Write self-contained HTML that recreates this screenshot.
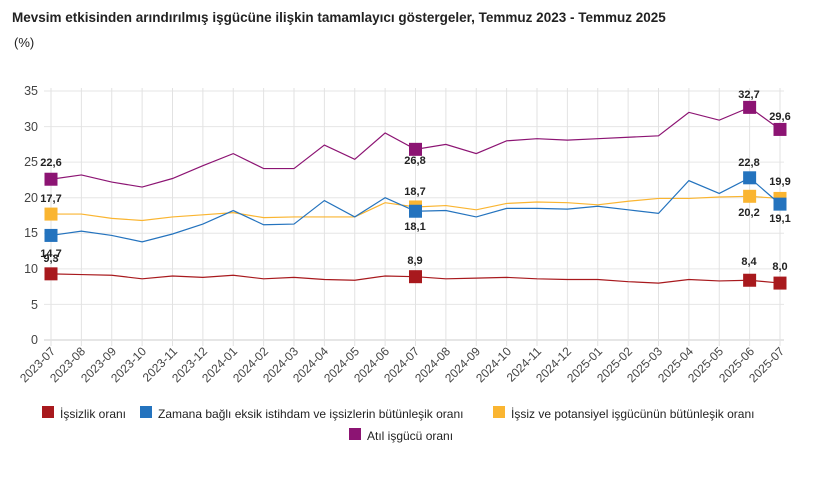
<!DOCTYPE html>
<html><head><meta charset="utf-8"><style>
body{margin:0;background:#fff;width:814px;height:472px;overflow:hidden;font-family:"Liberation Sans",Arial,sans-serif}
svg text{font-family:"Liberation Sans",Arial,sans-serif}
</style></head><body>
<svg id="s" width="814" height="472" xmlns="http://www.w3.org/2000/svg">
<text x="12" y="22" font-size="13.5" font-weight="bold" fill="#222">Mevsim etkisinden arındırılmış işgücüne ilişkin tamamlayıcı göstergeler, Temmuz 2023 - Temmuz 2025</text>
<text x="14" y="47" font-size="13" fill="#222">(%)</text>
<g id="grid"></g>
<g font-size="12.5" fill="#444" text-anchor="end">
<text x="38" y="344">0</text><text x="38" y="273">10</text><text x="38" y="309">5</text>
<text x="38" y="237">15</text><text x="38" y="202">20</text><text x="38" y="166">25</text>
<text x="38" y="131">30</text><text x="38" y="95">35</text>
</g>
<g id="xl" font-size="12" fill="#444" text-anchor="end">
<text transform="translate(56,352) rotate(-45)">2023-07</text>
<text transform="translate(86,352) rotate(-45)">2023-08</text>
<text transform="translate(117,352) rotate(-45)">2023-09</text>
<text transform="translate(147,352) rotate(-45)">2023-10</text>
<text transform="translate(178,352) rotate(-45)">2023-11</text>
<text transform="translate(208,352) rotate(-45)">2023-12</text>
<text transform="translate(238,352) rotate(-45)">2024-01</text>
<text transform="translate(269,352) rotate(-45)">2024-02</text>
<text transform="translate(299,352) rotate(-45)">2024-03</text>
<text transform="translate(329,352) rotate(-45)">2024-04</text>
<text transform="translate(360,352) rotate(-45)">2024-05</text>
<text transform="translate(390,352) rotate(-45)">2024-06</text>
<text transform="translate(420,352) rotate(-45)">2024-07</text>
<text transform="translate(451,352) rotate(-45)">2024-08</text>
<text transform="translate(481,352) rotate(-45)">2024-09</text>
<text transform="translate(512,352) rotate(-45)">2024-10</text>
<text transform="translate(542,352) rotate(-45)">2024-11</text>
<text transform="translate(572,352) rotate(-45)">2024-12</text>
<text transform="translate(603,352) rotate(-45)">2025-01</text>
<text transform="translate(633,352) rotate(-45)">2025-02</text>
<text transform="translate(663,352) rotate(-45)">2025-03</text>
<text transform="translate(694,352) rotate(-45)">2025-04</text>
<text transform="translate(724,352) rotate(-45)">2025-05</text>
<text transform="translate(755,352) rotate(-45)">2025-06</text>
<text transform="translate(785,352) rotate(-45)">2025-07</text>
</g>
<g id="lines"></g>
<g font-size="11" font-weight="bold" fill="#222" text-anchor="middle">
<text x="51" y="166">22,6</text><text x="51" y="202">17,7</text><text x="51" y="257">14,7</text><text x="51" y="262">9,3</text>
<text x="415" y="164">26,8</text><text x="415" y="195">18,7</text><text x="415" y="230">18,1</text><text x="415" y="264">8,9</text>
<text x="749" y="98">32,7</text><text x="780" y="120">29,6</text>
<text x="749" y="166">22,8</text><text x="780" y="185">19,9</text>
<text x="749" y="216">20,2</text><text x="780" y="222">19,1</text>
<text x="749" y="265">8,4</text><text x="780" y="270">8,0</text>
</g>
<g font-size="12" fill="#222">
<rect x="42" y="406" width="12" height="12" fill="#a8191d"/><text x="60" y="418">İşsizlik oranı</text>
<rect x="140" y="406" width="12" height="12" fill="#2473be"/><text x="158" y="418">Zamana bağlı eksik istihdam ve işsizlerin bütünleşik oranı</text>
<rect x="493" y="406" width="12" height="12" fill="#fab531"/><text x="511" y="418">İşsiz ve potansiyel işgücünün bütünleşik oranı</text>
<rect x="349" y="428" width="12" height="12" fill="#8c1473"/><text x="367" y="440">Atıl işgücü oranı</text>
</g>
</svg>
<script>
function X(i){return 51+i*30.375}function Y(v){return 340-v*7.114}
var g=document.getElementById('grid'),h='';
for(var k=0;k<=7;k++){var y=Y(k*5);h+='<line x1="44" x2="784" y1="'+y+'" y2="'+y+'" stroke="#e6e6e6" stroke-width="'+(k==0?2:1)+'"/>';}
for(var i=0;i<25;i++){h+='<line x1="'+X(i)+'" x2="'+X(i)+'" y1="88" y2="346" stroke="#e2e2e2"/>';}
g.innerHTML=h;
var S=[
["#a8191d",[9.3,9.2,9.1,8.6,9.0,8.8,9.1,8.6,8.8,8.5,8.4,9.0,8.9,8.6,8.7,8.8,8.6,8.5,8.5,8.2,8.0,8.5,8.3,8.4,8.0]],
["#fab531",[17.7,17.7,17.1,16.8,17.3,17.6,17.9,17.2,17.3,17.3,17.3,19.3,18.7,18.9,18.3,19.2,19.4,19.3,19.0,19.5,19.9,19.9,20.1,20.2,19.9]],
["#2473be",[14.7,15.3,14.7,13.8,14.9,16.3,18.2,16.2,16.3,19.6,17.3,20.0,18.1,18.2,17.3,18.5,18.5,18.4,18.8,18.3,17.8,22.4,20.6,22.8,19.1]],
["#8c1473",[22.6,23.2,22.2,21.5,22.7,24.5,26.2,24.1,24.1,27.4,25.4,29.1,26.8,27.5,26.2,28.0,28.3,28.1,28.3,28.5,28.7,32.0,30.9,32.7,29.6]]];
var L='';
S.forEach(function(s){var p=s[1].map(function(v,i){return X(i)+','+Y(v)}).join(' ');
L+='<polyline points="'+p+'" fill="none" stroke="'+s[0]+'" stroke-width="1.2"/>';
[0,12,23,24].forEach(function(i){L+='<rect x="'+(X(i)-6.5)+'" y="'+(Y(s[1][i])-6.5)+'" width="13" height="13" fill="'+s[0]+'"/>';});});
document.getElementById('lines').innerHTML=L;
</script>
</body></html>
